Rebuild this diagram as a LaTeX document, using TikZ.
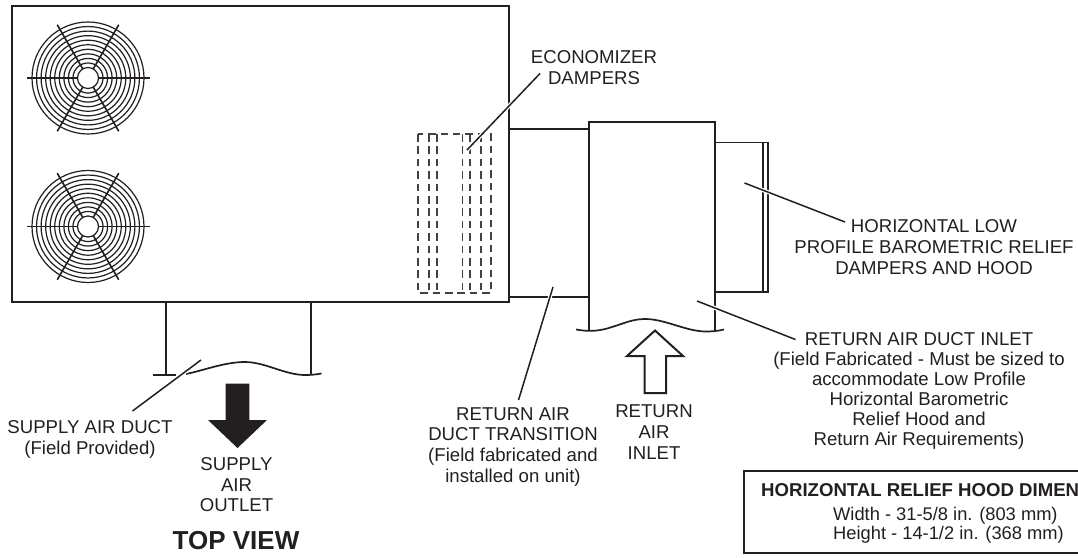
\documentclass[tikz,border=0pt]{standalone}
\usepackage{fontspec}
\setmainfont{Liberation Sans}
\usetikzlibrary{calc}
\definecolor{ink}{HTML}{231F20}
\tikzset{
  wall/.style={draw=ink,line width=2pt,line join=miter},
  thin wall/.style={draw=ink,line width=1.7pt},
  ring/.style={draw=ink,line width=1.2pt},
  spoke/.style={draw=ink,line width=1.6pt},
  damper/.style={draw=ink!85,line width=1.1pt,dash pattern=on 7.5pt off 4.9pt},
  leader/.style={draw=ink,line width=1.5pt,preaction={draw=white,line width=4pt}},
  lbl/.style={text=ink,align=center,anchor=base,inner sep=0pt,font=\fontsize{18.6}{20.6}\selectfont},
  lbl20/.style={lbl,font=\fontsize{18.6}{20}\selectfont},
}
\newcommand{\fan}[3]{%
  \foreach \r in {10.5,15.05,19.6,24.15,28.7,33.25,37.8,42.35,46.9,51.45,56}{\draw[ring] (#1,#2) circle[radius=\r];}
  \foreach \a in {0,60,120,180,240,300}{\draw[spoke] ($(#1,#2)+(\a:10.5)$) -- ($(#1,#2)+(\a:61.5)$);}
  \coordinate (#3) at (#1,#2);
}
\begin{document}
\begin{tikzpicture}[x=1pt,y=-1pt]
\clip (0,0) rectangle (1078,557);
\useasboundingbox (0,0) rectangle (1078,557);
\fill[white] (0,0) rectangle (1078,557);
% unit
\coordinate (unitNW) at (12,6); \coordinate (unitSE) at (509,302);
\draw[wall] (unitNW) rectangle (unitSE);
\fan{88}{78}{fanA}
\fan{88}{226.5}{fanB}
% dampers
\draw[damper] (418,134) rectangle (491,293);
\foreach \x in {429,437,462.5,470,481}{\draw[damper] (\x,134) -- (\x,293);}
% transition
\draw[wall] (509,129) -- (589,129);
\draw[thin wall] (509,297) -- (589,297);
% return inlet
\draw[thin wall] (589,330.5) -- (589,122) -- (714.7,122) -- (714.7,331);
\draw[thin wall] (576,329.5) .. controls (590,332) and (600,331) .. (612,327) .. controls (625,323) and (633,319) .. (645,319) .. controls (665,319) and (685,331) .. (705,331.5) .. controls (712,331.5) and (718,331) .. (724,329.5);
% hood
\draw[thin wall] (714.7,142.5) -- (768,142.5) -- (768,292) -- (714.7,292);
\draw[thin wall] (763,142.5) -- (763,292);
% supply duct
\draw[thin wall] (165.7,302) -- (165.7,375);
\draw[thin wall] (311,302) -- (311,375);
\draw[thin wall] (153,375) -- (176,375);
\draw[thin wall] (186,374) .. controls (205,370) and (225,362) .. (245,362) .. controls (265,362) and (285,375) .. (305,375) .. controls (311,375) and (316,374.5) .. (321.5,373.5);
% arrows
\fill[ink] (225.7,383.5) -- (249.3,383.5) -- (249.3,420) -- (267,420) -- (237.5,448) -- (208,420) -- (225.7,420) -- cycle;
\draw[wall] (655,330.5) -- (683,356) -- (666,356) -- (666,393) -- (644.5,393) -- (644.5,356) -- (627,356) -- cycle;
% labels
\node[lbl] (econ) at (594,84.3) {ECONOMIZER\\DAMPERS};
\node[lbl] (hood) at (934,274) {HORIZONTAL LOW\\PROFILE BAROMETRIC RELIEF\\DAMPERS AND HOOD};
\node[lbl20] (inlet) at (919,445) {RETURN AIR DUCT INLET\\(Field Fabricated - Must be sized to\\accommodate Low Profile\\Horizontal Barometric\\Relief Hood and\\Return Air Requirements)};
\node[lbl] (trans) at (513,482) {RETURN AIR\\DUCT TRANSITION\\(Field fabricated and\\installed on unit)};
\node[lbl] (rai) at (654,459) {RETURN\\AIR\\INLET};
\node[lbl] (sad) at (90,454) {SUPPLY AIR DUCT\\(Field Provided)};
\node[lbl] (sao) at (236.5,511.7) {SUPPLY\\AIR\\OUTLET};
\node[lbl,font=\fontsize{26}{26}\selectfont\bfseries] (top) at (236,549) {TOP VIEW};
% leaders
\coordinate (e1) at (467,150); \coordinate (e2) at (540,73.5);
\draw[leader] (e1) -- (e2);
\coordinate (h1) at (744.5,183); \coordinate (h2) at (845,222);
\draw[leader] (h1) -- (h2);
\coordinate (i1) at (697,301); \coordinate (i2) at (795.5,339.5);
\draw[leader] (i1) -- (i2);
\coordinate (t1) at (553,287); \coordinate (t2) at (518.5,400);
\draw[leader] (t1) -- (t2);
\coordinate (s1) at (201,360); \coordinate (s2) at (132.5,411);
\draw[leader] (s1) -- (s2);
% dimension box
\coordinate (bNW) at (744,471); \coordinate (bSE) at (1090,553);
\draw[wall] (bNW) rectangle (bSE);
\node[lbl,anchor=base west,font=\fontsize{18.6}{20}\selectfont\bfseries] (bt) at (761,496) {HORIZONTAL RELIEF HOOD DIMEN};
\node[lbl,anchor=base west,align=left,font=\fontsize{18.3}{19}\selectfont] (bd) at (833,539) {Width - 31-5/8 in. (803 mm)\\Height - 14-1/2 in. (368 mm)};
\end{tikzpicture}
\end{document}
